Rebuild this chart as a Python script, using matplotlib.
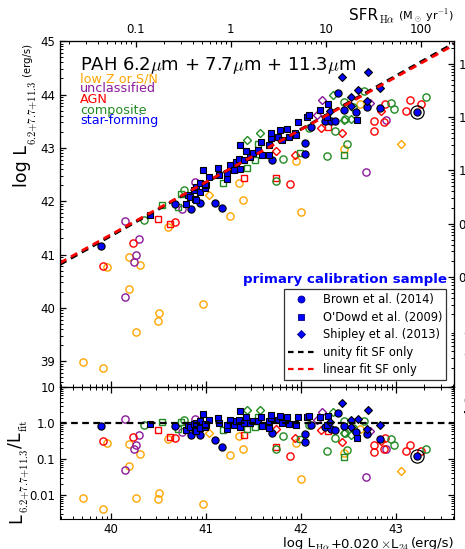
import numpy as np
import matplotlib
matplotlib.use('Agg')
import matplotlib.pyplot as plt
from matplotlib.ticker import FixedLocator, LogLocator, NullFormatter, FixedFormatter
from matplotlib.lines import Line2D

plt.rcParams['font.family'] = ['DejaVu Sans']
plt.rcParams['mathtext.fontset'] = 'cm'

# ---------------- data (log luminosities, erg/s) ----------------
# star-forming, Brown et al. (2014) -- circles
sf_brown_x = [39.90, 40.67, 40.84, 40.94, 41.10, 41.17, 41.70, 42.04, 42.04, 42.11,
              42.25, 42.32, 42.36, 42.39, 42.45, 42.58, 42.70, 42.83, 43.22]
sf_brown_y = [41.16, 41.95, 41.86, 41.97, 41.97, 41.87, 42.77, 43.10, 42.88, 43.40,
              43.50, 43.50, 43.51, 44.02, 43.71, 43.68, 43.76, 43.74, 43.67]
# star-forming, O'Dowd et al. (2009) -- squares
sf_odowd_x = [40.41, 40.79, 40.81, 40.83, 40.88, 40.90, 40.87, 40.90, 40.94, 40.99,
              41.00, 40.94, 40.97, 41.03, 40.99, 41.13, 41.14, 41.22, 41.22, 41.25,
              41.29, 41.32, 41.36, 41.35, 41.36, 41.40, 41.42, 41.46, 41.50, 41.55,
              41.58, 41.59, 41.66, 41.66, 41.69, 41.69, 41.76, 41.78, 41.80, 41.85,
              41.87, 41.94, 41.95, 41.97, 42.06, 42.08, 42.20, 42.27, 42.28, 42.59]
sf_odowd_y = [41.74, 41.94, 42.11, 42.07, 42.05, 42.02, 42.21, 42.26, 42.17, 42.24,
              42.30, 42.35, 42.58, 42.46, 42.33, 42.62, 42.49, 42.41, 42.52, 42.68,
              42.58, 42.74, 43.05, 42.80, 42.60, 42.77, 42.94, 42.83, 42.90, 42.96,
              43.11, 42.87, 43.06, 42.87, 43.18, 43.27, 43.21, 43.33, 43.15, 43.36,
              43.21, 43.27, 43.24, 43.49, 43.58, 43.62, 43.71, 43.58, 43.82, 43.52]
# star-forming, Shipley et al. (2013) -- diamonds
sf_shipley_x = [42.43, 42.71, 42.60, 42.83, 42.53, 42.70, 42.53, 42.31]
sf_shipley_y = [44.33, 44.43, 44.08, 44.12, 43.96, 43.88, 43.78, 43.69]

# composite
comp_circ_x = [40.35, 40.77, 41.74, 41.81, 42.27, 42.48, 42.36, 42.46, 42.55, 42.45,
               42.66, 42.95, 42.98, 43.32, 42.08]
comp_circ_y = [41.65, 42.21, 42.38, 42.80, 42.85, 43.08, 43.31, 43.55, 43.76, 43.86,
               44.07, 43.85, 43.73, 43.96, 43.37]
comp_sq_x = [40.54, 40.71, 40.74, 41.18, 41.43, 41.52, 41.55, 42.45, 41.99]
comp_sq_y = [41.93, 41.89, 42.13, 42.35, 42.62, 42.77, 43.08, 42.87, 42.90]
comp_dia_x = [41.43, 41.57, 42.34, 42.45, 42.53]
comp_dia_y = [43.15, 43.28, 43.99, 43.53, 43.55]

# AGN
agn_circ_x = [39.92, 40.23, 40.67, 41.89, 42.77, 42.77, 42.87, 42.89, 43.11, 43.15, 43.26]
agn_circ_y = [40.78, 41.21, 41.61, 42.33, 43.51, 43.32, 43.49, 43.82, 43.69, 43.90, 43.83]
agn_sq_x = [40.50, 40.62, 41.40, 41.74, 42.28]
agn_sq_y = [41.67, 41.58, 42.43, 42.44, 43.40]
agn_dia_x = [41.74, 41.94, 42.21, 42.43, 42.84]
agn_dia_y = [42.94, 42.87, 43.37, 43.27, 43.70]

# unclassified
uncl_circ_x = [40.15, 40.29, 40.26, 40.24, 40.15, 40.75, 40.88, 42.69, 42.90]
uncl_circ_y = [41.63, 41.30, 41.00, 40.86, 40.21, 41.85, 42.36, 42.55, 43.52]
uncl_dia_x = [42.22, 42.17, 42.73]
uncl_dia_y = [43.89, 43.61, 43.85]

# low Z or S/N
lowz_circ_x = [39.71, 39.92, 39.96, 40.19, 40.31, 40.19, 40.26, 40.50, 40.51, 40.60,
               40.97, 41.25, 41.39, 41.35, 41.95, 42.00, 42.45, 42.62]
lowz_circ_y = [38.99, 38.87, 40.76, 40.96, 40.81, 40.36, 39.54, 39.75, 39.91, 41.51,
               40.08, 41.72, 42.02, 42.34, 42.75, 41.80, 42.97, 43.82]
lowz_dia_x = [41.03, 43.05]
lowz_dia_y = [42.12, 43.07]

# highlighted (circled) object
circled_x = [43.22]
circled_y = [43.67]

# fits
unity_offset = 1.35
linear_slope = 0.985
linear_pivot = (41.5, 42.85)
sfr_ha_offset = 41.26      # log L at SFR_Halpha = 1
sfr_pah_offset = 42.58     # log L_PAH at SFR_PAH = 1

category_names = ['low Z or S/N', 'unclassified', 'AGN', 'composite', 'star-forming']
category_colors = ['#FFA500', '#8B1A9B', '#FF0000', '#228B22', '#0000FF']

top_yticks = [39, 40, 41, 42, 43, 44, 45]
bot_xticks = [40, 41, 42, 43]
bot_yticks = [0.01, 0.1, 1.0, 10]
bot_ylabels = ['0.01', '0.1', '1.0', '10']
sfr_top_ticks = [0.1, 1, 10, 100]
sfr_right_ticks = [0.01, 0.1, 1, 10, 100]

legend_labels = ['Brown et al. (2014)', "O'Dowd et al. (2009)", 'Shipley et al. (2013)',
                 'unity fit SF only', 'linear fit SF only']

XLIM = (39.463, 43.61)
YLIM_TOP = (38.51, 45.0)
YLIM_BOT = (0.00215, 10.0)

COL = dict(zip(category_names, category_colors))

# ---------------- figure ----------------
W, H = 465, 549
fig = plt.figure(figsize=(W / 100, H / 100), dpi=100)
ax1 = fig.add_axes([0.129, 0.2945, 0.847, 0.6305])
ax2 = fig.add_axes([0.129, 0.0546, 0.847, 0.2399])

for ax in (ax1, ax2):
    ax.set_xscale('log')
    ax.set_yscale('log')
    ax.set_xlim(10**XLIM[0], 10**XLIM[1])


def unity_fit(x):
    return np.asarray(x) + unity_offset


def draw(xs, ys, marker, color, filled, ms):
    xs = np.asarray(xs)
    ys = np.asarray(ys)
    for ax, yv in ((ax1, 10**ys), (ax2, 10**(ys - unity_fit(xs)))):
        if filled:
            ax.plot(10**xs, yv, ls='none', marker=marker, ms=ms, mfc=color,
                    mec='k', mew=0.8, zorder=4)
        else:
            ax.plot(10**xs, yv, ls='none', marker=marker, ms=ms, mfc='none',
                    mec=color, mew=1.0, zorder=3)


MS_C, MS_S, MS_D = 5.2, 5.0, 4.4
draw(lowz_circ_x, lowz_circ_y, 'o', COL['low Z or S/N'], False, MS_C)
draw(lowz_dia_x, lowz_dia_y, 'D', COL['low Z or S/N'], False, MS_D)
draw(uncl_circ_x, uncl_circ_y, 'o', COL['unclassified'], False, MS_C)
draw(uncl_dia_x, uncl_dia_y, 'D', COL['unclassified'], False, MS_D)
draw(agn_circ_x, agn_circ_y, 'o', COL['AGN'], False, MS_C)
draw(agn_sq_x, agn_sq_y, 's', COL['AGN'], False, MS_S)
draw(agn_dia_x, agn_dia_y, 'D', COL['AGN'], False, MS_D)
draw(comp_circ_x, comp_circ_y, 'o', COL['composite'], False, MS_C)
draw(comp_sq_x, comp_sq_y, 's', COL['composite'], False, MS_S)
draw(comp_dia_x, comp_dia_y, 'D', COL['composite'], False, MS_D)
draw(sf_brown_x, sf_brown_y, 'o', COL['star-forming'], True, MS_C)
draw(sf_odowd_x, sf_odowd_y, 's', COL['star-forming'], True, MS_S)
draw(sf_shipley_x, sf_shipley_y, 'D', COL['star-forming'], True, MS_D)

# circled object
cx = np.asarray(circled_x)
cy = np.asarray(circled_y)
ax1.plot(10**cx, 10**cy, ls='none', marker='o', ms=9.5, mfc='none', mec='k', mew=0.9, zorder=5)
ax2.plot(10**cx, 10**(cy - unity_fit(cx)), ls='none', marker='o', ms=9.5, mfc='none',
         mec='k', mew=0.9, zorder=5)

# fit lines
xl = np.array(XLIM)
ax1.plot(10**xl, 10**unity_fit(xl), color='k', lw=2.0, dashes=(2.6, 1.9), zorder=6)
ax1.plot(10**xl, 10**(linear_pivot[1] + linear_slope * (xl - linear_pivot[0])),
         color='#FF0000', lw=2.0, dashes=(2.6, 1.9), zorder=7)
ax2.plot(10**xl, [1.0, 1.0], color='k', lw=1.6, dashes=(3.0, 2.0), zorder=6)

ax1.set_ylim(10**YLIM_TOP[0], 10**YLIM_TOP[1])
ax2.set_ylim(*YLIM_BOT)

# ---------------- ticks ----------------
TL = 8.5


def minor_log():
    return LogLocator(base=10, subs=np.arange(2, 10), numticks=100)


ax1.yaxis.set_major_locator(FixedLocator([10.0**v for v in top_yticks]))
ax1.yaxis.set_major_formatter(FixedFormatter([str(v) for v in top_yticks]))
ax1.yaxis.set_minor_locator(minor_log())
ax1.yaxis.set_minor_formatter(NullFormatter())
ax1.xaxis.set_major_locator(FixedLocator([10.0**v for v in bot_xticks]))
ax1.xaxis.set_minor_locator(minor_log())
ax1.xaxis.set_major_formatter(NullFormatter())
ax1.xaxis.set_minor_formatter(NullFormatter())

ax2.xaxis.set_major_locator(FixedLocator([10.0**v for v in bot_xticks]))
ax2.xaxis.set_major_formatter(FixedFormatter([str(v) for v in bot_xticks]))
ax2.xaxis.set_minor_locator(minor_log())
ax2.xaxis.set_minor_formatter(NullFormatter())
ax2.yaxis.set_major_locator(FixedLocator(bot_yticks))
ax2.yaxis.set_major_formatter(FixedFormatter(bot_ylabels))
ax2.yaxis.set_minor_locator(minor_log())
ax2.yaxis.set_minor_formatter(NullFormatter())

for ax in (ax1, ax2):
    ax.tick_params(which='both', direction='in', labelsize=TL)
    ax.tick_params(which='major', length=4.5, width=0.9)
    ax.tick_params(which='minor', length=2.3, width=0.7)
ax2.tick_params(which='both', top=True, right=True)
ax2.tick_params(axis='x', pad=3)
ax1.tick_params(which='both', top=False, right=False, bottom=True, left=True)

# top SFR axis
axt = ax1.twiny()
axt.set_xscale('log')
axt.set_xlim(10**(XLIM[0] - sfr_ha_offset), 10**(XLIM[1] - sfr_ha_offset))
axt.xaxis.set_major_locator(FixedLocator(sfr_top_ticks))
axt.xaxis.set_major_formatter(FixedFormatter([f'{v:g}' for v in sfr_top_ticks]))
axt.xaxis.set_minor_locator(minor_log())
axt.xaxis.set_minor_formatter(NullFormatter())
axt.tick_params(which='both', direction='in', labelsize=TL, top=True)
axt.tick_params(which='major', length=4.5, width=0.9)
axt.tick_params(which='minor', length=2.3, width=0.7)

# right SFR axis
axr = ax1.twinx()
axr.set_yscale('log')
axr.set_ylim(10**(YLIM_TOP[0] - sfr_pah_offset), 10**(YLIM_TOP[1] - sfr_pah_offset))
axr.yaxis.set_major_locator(FixedLocator(sfr_right_ticks))
axr.yaxis.set_major_formatter(FixedFormatter([f'{v:g}' for v in sfr_right_ticks]))
axr.yaxis.set_minor_locator(minor_log())
axr.yaxis.set_minor_formatter(NullFormatter())
axr.tick_params(which='both', direction='in', labelsize=TL, right=True)
axr.tick_params(which='major', length=4.5, width=0.9)
axr.tick_params(which='minor', length=2.3, width=0.7)

# ---------------- texts ----------------
ax1.text(0.051, 0.918, r'PAH 6.2$\mu$m + 7.7$\mu$m + 11.3$\mu$m', transform=ax1.transAxes,
         fontsize=13, ha='left', va='baseline')
cat_base = [0.882, 0.853, 0.822, 0.790, 0.760]
for name, col, yb in zip(category_names, category_colors, cat_base):
    ax1.text(0.051, yb, name, color=col, transform=ax1.transAxes, fontsize=9.2,
             ha='left', va='baseline')

ax1.text(0.982, 0.302, 'primary calibration sample', color='#0000FF', fontweight='bold',
         transform=ax1.transAxes, fontsize=9.6, ha='right', va='baseline')

handles = [
    Line2D([], [], ls='none', marker='o', ms=5, mfc='#0000FF', mec='#00008B', mew=0.6),
    Line2D([], [], ls='none', marker='s', ms=5, mfc='#0000FF', mec='#00008B', mew=0.6),
    Line2D([], [], ls='none', marker='D', ms=4.5, mfc='#0000FF', mec='#00008B', mew=0.6),
    Line2D([], [], color='k', lw=1.6, dashes=(2.5, 2.0)),
    Line2D([], [], color='#FF0000', lw=1.6, dashes=(2.5, 2.0)),
]
leg = ax1.legend(handles, legend_labels, loc='lower right', bbox_to_anchor=(0.981, 0.021),
                 fontsize=8.3, frameon=True, fancybox=False, numpoints=1,
                 handlelength=2.2, handletextpad=0.8, borderpad=0.35, labelspacing=0.38,
                 borderaxespad=0.0)
leg.get_frame().set_edgecolor('k')
leg.get_frame().set_linewidth(0.9)
leg.set_zorder(10)

renderer = fig.canvas.get_renderer()


def seq_vertical(x_px, y_start_px, pieces):
    """Rotated (90 deg) text pieces placed one after another, bottom to top.
    pieces: (string, fontsize, baseline shift in px towards +x)."""
    y = H - y_start_px
    for s, fs, shift in pieces:
        t = fig.text((x_px + shift) / W, y / H, s, rotation=90, rotation_mode='anchor',
                     ha='left', va='baseline', fontsize=fs)
        bb = t.get_window_extent(renderer)
        y = bb.y1 + 0.5


def seq_horizontal_right(x_right_px, y_px, pieces):
    """Horizontal pieces left to right, whole group right-aligned at x_right_px.
    shift > 0 moves the baseline down (px)."""
    x = 0.0
    texts = []
    for s, fs, shift in pieces:
        t = fig.text(x / W, (H - y_px - shift) / H, s, ha='left', va='baseline', fontsize=fs)
        bb = t.get_window_extent(renderer)
        texts.append(t)
        x = bb.x1 + 0.5
    dx = x_right_px - (x - 0.5)
    for t in texts:
        px, py = t.get_position()
        t.set_position((px + dx / W, py))


SUB = r'$6.2{+}7.7{+}11.3$'
# left labels
seq_vertical(27, 187, [('log L', 12.5, 0), (SUB, 7.7, 9), (' (erg/s)', 7.2, 4)])
seq_vertical(21, 523, [('L', 12.5, 0), (SUB, 7.7, 7), ('/L', 12.5, 0),
                       (r'$\rm fit$', 8.5, 6)])
# bottom x label
seq_horizontal_right(454, 547.5, [('log L', 9.5, 0), (r'$\rm H\alpha$', 7, 3),
                                  ('+0.020', 9.5, 0), (r'$\times$', 9.5, 0), ('L', 9.5, 0),
                                  (r'$24$', 7, 3), ('(erg/s)', 9.5, 0)])
# top SFR label
seq_horizontal_right(454, 20, [('SFR', 11, 0), (r'$\rm H\alpha$', 7.5, 3),
                               (r' (M$_\odot$ yr$^{-1}$)', 8, 0)])
# right (clipped) SFR label
fig.text(460 / W, 1 - 365 / H, r'SFR$_{6.2+7.7+11.3}$ (M$_\odot$ yr$^{-1}$)', rotation=270,
         rotation_mode='anchor', ha='center', va='bottom', fontsize=9)

fig.savefig('out.png', dpi=100)
